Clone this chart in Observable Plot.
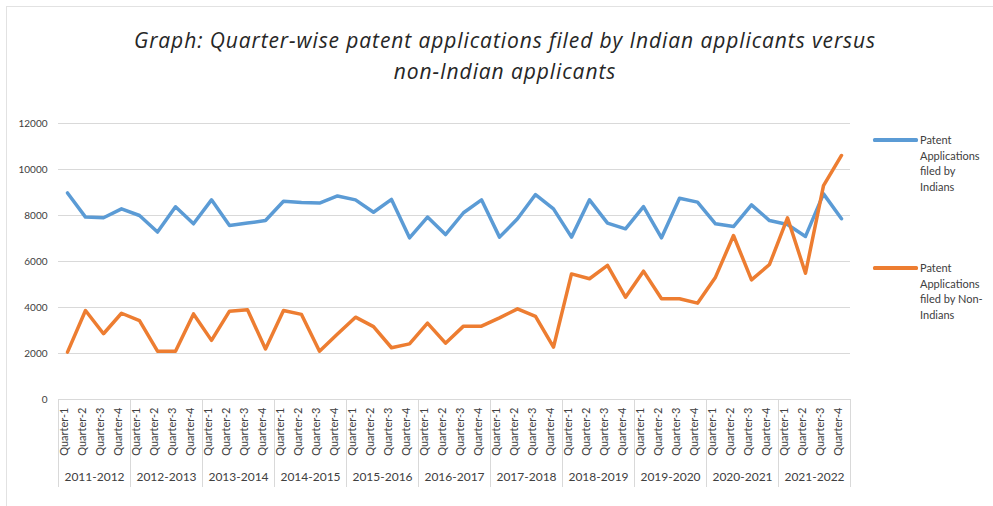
<!DOCTYPE html>
<html>
<head>
<meta charset="utf-8">
<script src="https://cdn.jsdelivr.net/npm/d3@7"></script>
<script src="https://cdn.jsdelivr.net/npm/@observablehq/plot@0.6"></script>
<style>
  html, body { margin: 0; padding: 0; background: #fff; }
  #wrap { position: relative; width: 993px; height: 506px; overflow: hidden; font-family: Lato, "Open Sans", sans-serif; }
  #frame { position: absolute; left: 6px; top: 6px; width: 1000px; height: 520px; border-left: 1.5px solid #e2e2e2; border-top: 1.5px solid #e2e2e2; }
  #title { position: absolute; left: 0; top: 25px; width: 1010px; text-align: center; font-family: "Open Sans", sans-serif; font-style: italic; font-size: 21px; letter-spacing: 0.9px; line-height: 31px; color: #262626; }
  .leg { position: absolute; left: 873px; display: flex; align-items: flex-start; font-size: 11px; line-height: 15.5px; color: #404040; }
  .sw { width: 45px; height: 3.5px; margin-top: 6px; margin-right: 2px; border-radius: 1.5px; }
  svg { position: absolute; left: 0; top: 0; }
</style>
</head>
<body>
<div id="wrap">
  <div id="frame"></div>
  <div id="title">Graph: Quarter-wise patent applications filed by Indian applicants versus<br>non-Indian applicants</div>
</div>
<script>
const years = ["2011-2012","2012-2013","2013-2014","2014-2015","2015-2016","2016-2017","2017-2018","2018-2019","2019-2020","2020-2021","2021-2022"];
const quarters = ["Quarter-1","Quarter-2","Quarter-3","Quarter-4"];
const indians = [8980,7930,7900,8290, 8000,7280,8380,7640, 8680,7570,7670,7780, 8620,8570,8540,8850,
                 8680,8140,8700,7030, 7930,7170,8120,8680, 7060,7860,8910,8290, 7060,8680,7670,7420,
                 8390,7030,8750,8580, 7640,7520,8460,7780, 7610,7090,8940,7860];
const nonIndians = [2060,3870,2860,3750, 3430,2100,2100,3720, 2570,3840,3900,2200, 3870,3700,2100,2850,
                    3580,3170,2250,2420, 3320,2450,3190,3190, 3550,3940,3610,2280, 5460,5250,5830,4450,
                    5580,4380,4380,4190, 5320,7130,5200,5870, 7900,5490,9300,10610];
const seriesNames = ["Patent Applications filed by Indians", "Patent Applications filed by Non-Indians"];
const colors = ["#5B9BD5", "#ED7D31"];
const yTicks = [0,2000,4000,6000,8000,10000,12000];

const rows = [];
years.forEach((yr, yi) => quarters.forEach((q, qi) => {
  const i = yi * 4 + qi;
  rows.push({i, year: yr, quarter: q, indians: indians[i], nonIndians: nonIndians[i]});
}));
const separators = d3.range(0, rows.length + 1, 4).map(i => i - 0.5);
const yearRows = years.map((yr, yi) => ({year: yr, mid: yi * 4 + 1.5}));

const mTop = 123, mBottom = 107, H = 506;
const plotH = H - mTop - mBottom;

const chart = Plot.plot({
  width: 993,
  height: H,
  marginLeft: 58,
  marginRight: 143,
  marginTop: mTop,
  marginBottom: mBottom,
  style: {fontFamily: "Lato, 'Open Sans', sans-serif", background: "transparent"},
  x: {type: "linear", domain: [-0.5, rows.length - 0.5], axis: null},
  y: {domain: [0, 12000], ticks: yTicks, tickSize: 0, tickPadding: 11, tickFormat: d => String(d), label: null, fontSize: 11.5},
  marks: [
    Plot.gridY(yTicks.filter(d => d > 0), {stroke: "#d9d9d9", strokeOpacity: 1, strokeWidth: 1}),
    Plot.ruleY([0], {stroke: "#d9d9d9", strokeWidth: 1}),
    Plot.ruleX(separators, {stroke: "#d9d9d9", strokeWidth: 1, insetTop: plotH, insetBottom: -88}),
    Plot.line(rows, {x: "i", y: "indians", stroke: colors[0], strokeWidth: 3.5, strokeLinejoin: "round", strokeLinecap: "round"}),
    Plot.line(rows, {x: "i", y: "nonIndians", stroke: colors[1], strokeWidth: 3.5, strokeLinejoin: "round", strokeLinecap: "round"}),
    Plot.text(rows, {x: "i", frameAnchor: "bottom", text: "quarter", rotate: -90, textAnchor: "end", dy: 8, fontSize: 11, fill: "#404040"}),
    Plot.text(yearRows, {x: "mid", frameAnchor: "bottom", text: "year", dy: 81, fontSize: 12, fill: "#404040"})
  ]
});
chart.querySelectorAll("g[aria-label='y-axis tick label'] text, g[aria-label='y-axis'] text").forEach(t => t.setAttribute("fill", "#404040"));
const wrap = document.getElementById("wrap");
wrap.appendChild(chart);

const legendTexts = [["Patent","Applications","filed by","Indians"], ["Patent","Applications","filed by Non-","Indians"]];
const legendTops = [132, 260];
legendTexts.forEach((lines, k) => {
  const d = document.createElement("div");
  d.className = "leg";
  d.style.top = legendTops[k] + "px";
  d.title = seriesNames[k];
  d.innerHTML = `<div class="sw" style="background:${colors[k]}"></div><div>${lines.join("<br>")}</div>`;
  wrap.appendChild(d);
});
</script>
</body>
</html>
